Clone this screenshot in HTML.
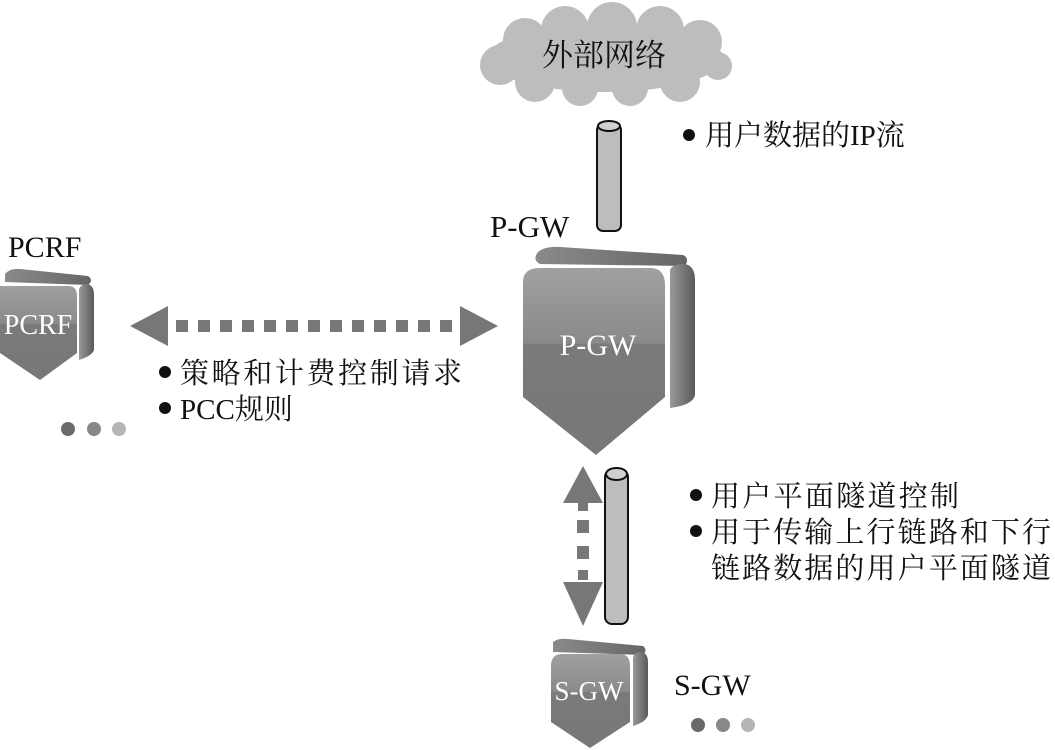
<!DOCTYPE html>
<html><head><meta charset="utf-8"><style>
html,body{margin:0;padding:0;background:#fff;}
svg{display:block;}
text{font-family:"Liberation Serif","Noto Serif CJK SC",serif;}
.cn{font-family:"Liberation Serif","Noto Serif CJK SC","Noto Sans CJK SC",serif;}
</style></head><body>
<svg width="1055" height="750" viewBox="0 0 1055 750" xmlns="http://www.w3.org/2000/svg">
<defs>
<linearGradient id="fg" x1="0" y1="0" x2="0" y2="1">
<stop offset="0" stop-color="#a0a0a0"/><stop offset="0.4" stop-color="#8a8a8a"/><stop offset="0.41" stop-color="#7a7a7a"/><stop offset="1" stop-color="#777"/>
</linearGradient>
<linearGradient id="sg" x1="0" y1="0" x2="1" y2="0">
<stop offset="0" stop-color="#999"/><stop offset="1" stop-color="#5a5a5a"/>
</linearGradient>
<linearGradient id="tg" x1="0" y1="0" x2="1" y2="0">
<stop offset="0" stop-color="#8a8a8a"/><stop offset="1" stop-color="#666"/>
</linearGradient>
</defs>

<!-- cloud -->
<g fill="#bdbdbd">
<ellipse cx="605" cy="58" rx="118" ry="34"/>
<circle cx="525" cy="40" r="22"/><circle cx="565" cy="30" r="24"/><circle cx="612" cy="27" r="25"/><circle cx="660" cy="30" r="24"/><circle cx="700" cy="42" r="22"/>
<circle cx="500" cy="65" r="20"/><circle cx="718" cy="66" r="14"/><circle cx="535" cy="82" r="20"/><circle cx="580" cy="88" r="18"/><circle cx="630" cy="88" r="18"/><circle cx="680" cy="82" r="20"/>
</g>
<text x="604" y="66" font-size="31" class="cn" text-anchor="middle" fill="#111">外部网络</text>

<!-- top cylinder -->
<rect x="597" y="124" width="24" height="107" rx="6" fill="#bdbdbd" stroke="#111" stroke-width="2"/>
<ellipse cx="609" cy="126" rx="11" ry="5" fill="#d0d0d0" stroke="#111" stroke-width="2"/>
<circle cx="689" cy="135" r="6" fill="#111"/>
<text x="705" y="145" font-size="29" class="cn" fill="#111">用户数据的IP流</text>

<!-- P-GW -->
<text x="490" y="237" font-size="31" fill="#111">P-GW</text>
<path d="M538 252 Q545 246 560 247 L683 255 Q690 258 685 266 L540 264 Q532 260 538 252Z" fill="url(#tg)"/>
<path d="M670 270 Q672 264 685 264 Q695 266 695 280 L695 395 Q693 405 670 408 Z" fill="url(#sg)"/>
<path d="M523 282 Q523 268 540 268 L650 268 Q665 268 665 285 L665 397 L596 455 L523 397 Z" fill="url(#fg)"/>
<text x="598" y="355" font-size="30" fill="#fff" text-anchor="middle">P-GW</text>

<!-- PCRF -->
<text x="8" y="257" font-size="30" fill="#111">PCRF</text>
<path d="M5 274 Q10 268 20 269 L88 276 Q94 280 88 285 L5 282Z" fill="url(#tg)"/>
<path d="M79 290 Q80 284 88 284 Q94 286 94 295 L94 350 Q92 356 79 360 Z" fill="url(#sg)"/>
<path d="M0 286 L68 286 Q77 286 77 296 L77 353 L40 380 L0 353 Z" fill="url(#fg)"/>
<text x="38" y="334" font-size="28" fill="#fff" text-anchor="middle">PCRF</text>
<circle cx="68" cy="429" r="7" fill="#6a6a6a"/><circle cx="94" cy="429" r="7" fill="#888"/><circle cx="119" cy="429" r="7" fill="#b5b5b5"/>

<!-- horizontal arrow -->
<polygon points="130,326 168,306 168,346" fill="#777"/>
<polygon points="498,326 460,306 460,346" fill="#777"/>
<g fill="#777">
<rect x="176" y="320" width="12" height="12"/><rect x="198" y="320" width="12" height="12"/><rect x="220" y="320" width="12" height="12"/><rect x="242" y="320" width="12" height="12"/><rect x="264" y="320" width="12" height="12"/><rect x="286" y="320" width="12" height="12"/><rect x="308" y="320" width="12" height="12"/><rect x="330" y="320" width="12" height="12"/><rect x="352" y="320" width="12" height="12"/><rect x="374" y="320" width="12" height="12"/><rect x="396" y="320" width="12" height="12"/><rect x="418" y="320" width="12" height="12"/><rect x="440" y="320" width="12" height="12"/>
</g>
<circle cx="165" cy="372" r="6" fill="#111"/>
<text x="180" y="383" font-size="29" class="cn" fill="#111" textLength="282">策略和计费控制请求</text>
<circle cx="165" cy="408" r="6" fill="#111"/>
<text x="180" y="419" font-size="29" class="cn" fill="#111">PCC规则</text>

<!-- vertical arrow -->
<polygon points="583,466 563,503 603,503" fill="#777"/>
<rect x="578" y="503" width="10" height="8" fill="#777"/>
<rect x="577" y="520" width="12" height="13" fill="#777"/>
<rect x="577" y="546" width="12" height="13" fill="#777"/>
<rect x="578" y="570" width="10" height="10" fill="#777"/>
<polygon points="583,626 563,582 603,582" fill="#777"/>

<!-- lower cylinder -->
<rect x="605" y="470" width="23" height="154" rx="7" fill="#bdbdbd" stroke="#111" stroke-width="2"/>
<ellipse cx="616.5" cy="474" rx="10.5" ry="6" fill="#d0d0d0" stroke="#111" stroke-width="2"/>

<circle cx="696" cy="495" r="6" fill="#111"/>
<text x="711" y="506" font-size="29" class="cn" fill="#111" textLength="248">用户平面隧道控制</text>
<circle cx="696" cy="531" r="6" fill="#111"/>
<text x="711" y="542" font-size="29" class="cn" fill="#111" textLength="340">用于传输上行链路和下行</text>
<text x="711" y="578" font-size="29" class="cn" fill="#111" textLength="340">链路数据的用户平面隧道</text>

<!-- S-GW -->
<path d="M553 642 Q558 638 568 639 L643 646 Q648 650 643 655 L553 652Z" fill="url(#tg)"/>
<path d="M633 658 Q634 652 642 652 Q648 654 648 662 L648 715 Q646 722 633 726 Z" fill="url(#sg)"/>
<path d="M551 666 Q551 654 562 654 L620 654 Q630 654 630 666 L630 722 L590 748 L551 722 Z" fill="url(#fg)"/>
<text x="589" y="700" font-size="27" fill="#fff" text-anchor="middle">S-GW</text>
<text x="674" y="695" font-size="30" fill="#111">S-GW</text>
<circle cx="698" cy="725" r="7" fill="#6a6a6a"/><circle cx="723" cy="725" r="7" fill="#888"/><circle cx="748" cy="725" r="7" fill="#b5b5b5"/>
</svg>
</body></html>
